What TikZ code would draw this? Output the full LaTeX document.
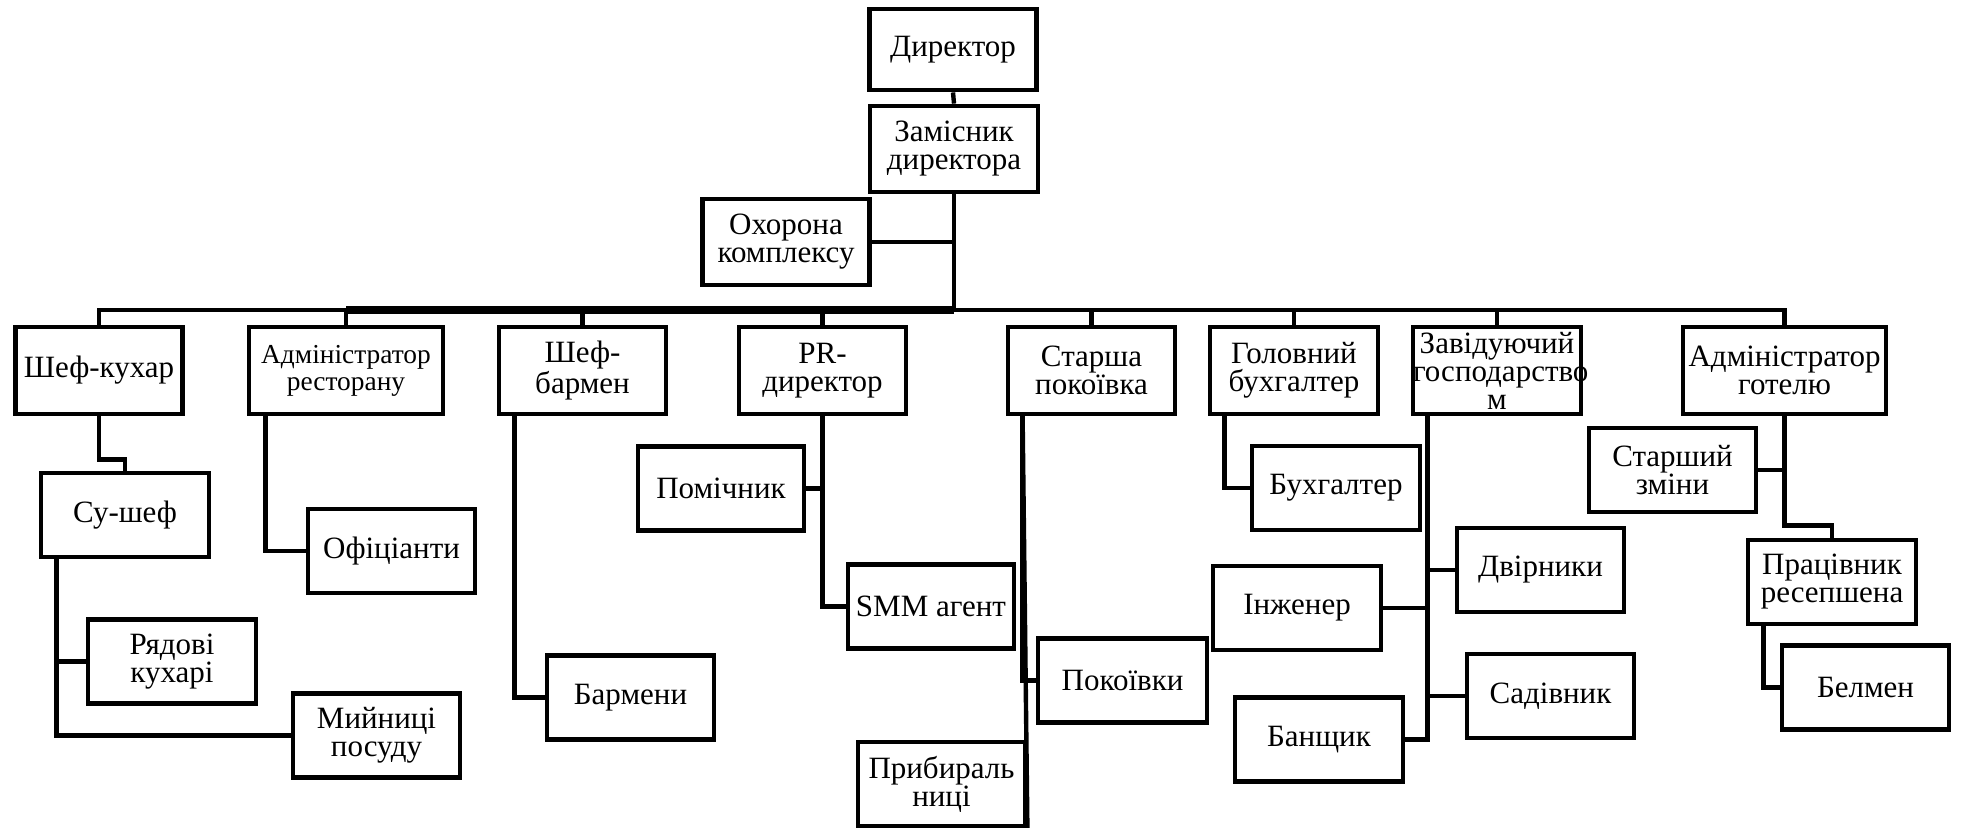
\documentclass[tikz,border=0pt]{standalone}
\usepackage{fontspec}
\setmainfont{Liberation Serif}
\newfontfamily\orgfont{Liberation Serif}
\tikzset{unit/.style = {draw, line width=2.4pt, inner sep=0pt, align=center,
                        minimum width=83.5pt, minimum height=42pt,
                        font=\orgfont\fontsize{15.5}{14}\selectfont}}
\tikzset{head/.style = {unit, minimum height=43.5pt}}
\tikzset{link/.style = {line width=2.2pt}}

\begin{document}
\begin{tikzpicture}[x=0.5pt, y=-0.5pt]
  \useasboundingbox (0,0) rectangle (1962,827);

  % management
  \node [unit, minimum height=40.5pt] (dir) at (953,49.5) {Директор};
  \node [unit, minimum width=84pt, minimum height=43pt] (dep) at (954,149) {Замісник\\директора};
  \node [unit, minimum height=43pt] (guard) at (786,242) {Охорона\\комплексу};
  \coordinate (hub) at (954,310);

  % heads of departments
  \node [head] (chef) at (99,370.5) {Шеф-кухар};
  \node [head, minimum width=97pt, font=\orgfont\fontsize{13.7}{13.5}\selectfont] (radm) at (346,370.5) {Адміністратор\\ресторану};
  \node [head] (bar) at (582.5,370.5) {Шеф-\\бармен};
  \node [head] (pr) at (822.5,370.5) {PR-\\директор};
  \node [head] (maid) at (1091.5,370.5) {Старша\\покоївка};
  \node [head, minimum width=84pt] (acc) at (1294,370.5) {Головний\\бухгалтер};
  \node [head, text width=84pt] (eco) at (1497,370.5) {Завідуючий\\господарство\\м};
  \node [head, minimum width=101.5pt] (hadm) at (1784.5,370.5) {Адміністратор\\готелю};

  % staff
  \node [unit, minimum width=84pt] (sous) at (125,515) {Су-шеф};
  \node [unit, minimum width=84pt] (cook) at (172,661.5) {Рядові\\кухарі};
  \node [unit] (wash) at (376.5,735.5) {Мийниці\\посуду};
  \node [unit] (waiter) at (391.5,551) {Офіціанти};
  \node [unit] (bartn) at (630.5,697.5) {Бармени};
  \node [unit, minimum width=83pt] (asst) at (721,488.5) {Помічник};
  \node [unit, minimum width=83pt] (smm) at (931,606.5) {SMM агент};
  \node [unit, minimum width=84.5pt] (maids) at (1122.5,680.5) {Покоївки};
  \node [unit] (clean) at (941.5,784) {Прибираль\\ниці};
  \node [unit, minimum width=84pt] (bk) at (1336,488) {Бухгалтер};
  \node [unit] (yard) at (1540.5,570) {Двірники};
  \node [unit, minimum width=84pt] (eng) at (1297,608) {Інженер};
  \node [unit] (gard) at (1550.5,696) {Садівник};
  \node [unit, minimum width=84pt] (bath) at (1319,739.5) {Банщик};
  \node [unit] (shift) at (1672.5,470) {Старший\\зміни};
  \node [unit, minimum width=84pt] (recep) at (1832,582) {Працівник\\ресепшена};
  \node [unit] (bell) at (1865.5,687.5) {Белмен};

  % main lines
  \draw [link] (dir.south) -- (dep.north);
  \draw [link] (dep.south) -- (hub);
  \draw [link] (guard.east) -- (guard.east -| hub);
  \foreach \n in {chef, radm, bar, pr, maid, acc, eco, hadm}
    \draw [link] (hub) -| (\n.north);
  \draw [line width=3.6pt] (radm.north |- hub) -- (hub);

  % department lines
  \draw [link] (chef.south) -- ++(0,43) -| (sous.north);
  \draw [link] (sous.south west) ++(18,0) |- (cook.west);
  \draw [link] (sous.south west) ++(18,0) |- (wash.west);
  \draw [link] (radm.south west) ++(19,0) |- (waiter.west);
  \draw [link] (bar.south west) ++(18,0) |- (bartn.west);
  \draw [link] (pr.south) |- (asst.east);
  \draw [link] (pr.south) |- (smm.west);
  \draw [link] (maid.south west) ++(17,0) |- (maids.west);
  \draw [link] (maid.south west) ++(17,0) -- (clean.south east);
  \draw [link] (acc.south west) ++(17,0) |- (bk.west);
  \foreach \n/\s in {yard/west, eng/east, gard/west, bath/east}
    \draw [link] (eco.south west) ++(17,0) |- (\n.\s);
  \draw [link] (hadm.south) |- (shift.east);
  \draw [link] (hadm.south) -- ++(0,109) -| (recep.north);
  \draw [link] (recep.south west) ++(18,0) |- (bell.west);
\end{tikzpicture}
\end{document}
